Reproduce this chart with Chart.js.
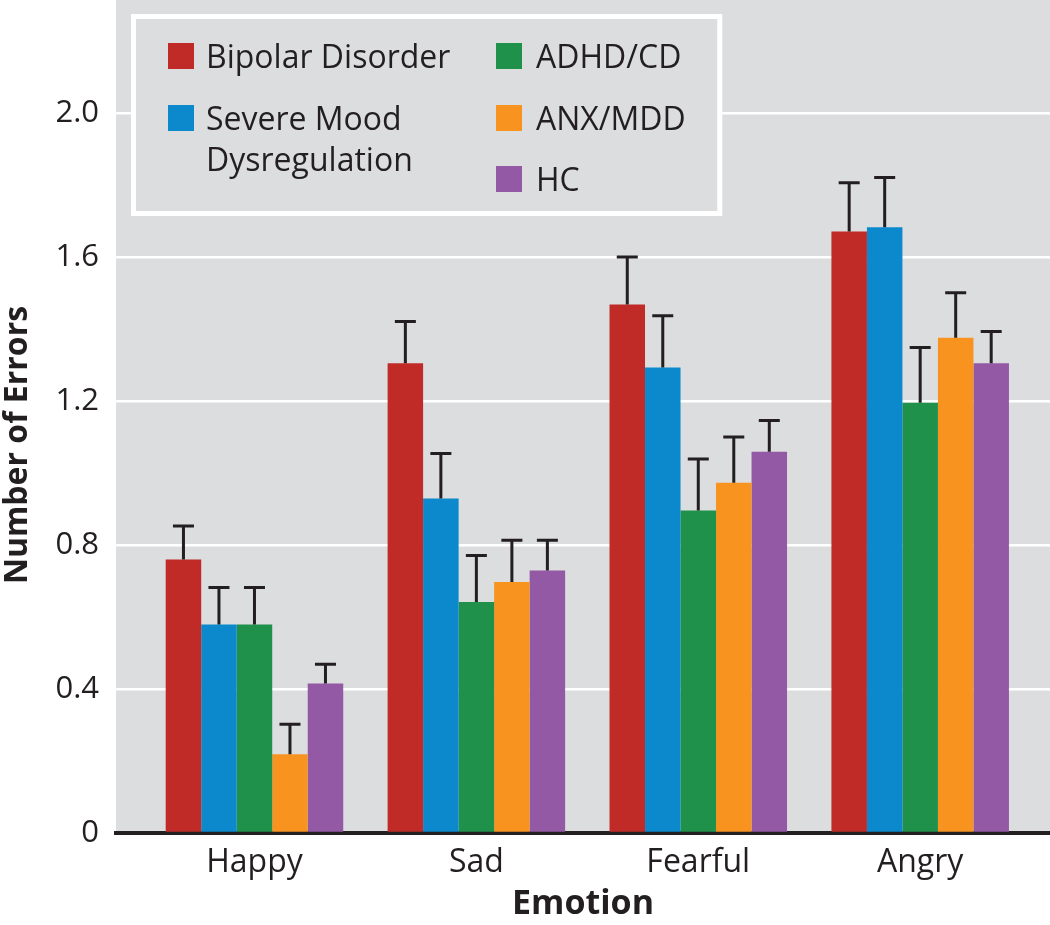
<!DOCTYPE html>
<html>
<head>
<meta charset="utf-8">
<script src="https://cdn.jsdelivr.net/npm/chart.js@4.4.1/dist/chart.umd.min.js"></script>
<style>
  html, body { margin: 0; padding: 0; background: #fff; }
</style>
</head>
<body>
<canvas id="errorsChart" width="1050" height="925"></canvas>
<script>
// data
const emotions = ["Happy", "Sad", "Fearful", "Angry"];
const groups = ["Bipolar Disorder", "Severe Mood Dysregulation", "ADHD/CD", "ANX/MDD", "HC"];
const legendLines = [["Bipolar Disorder"], ["Severe Mood", "Dysregulation"], ["ADHD/CD"], ["ANX/MDD"], ["HC"]];

const bipolar = [0.760, 1.305, 1.468, 1.671];
const smd     = [0.579, 0.929, 1.293, 1.683];
const adhd    = [0.579, 0.642, 0.896, 1.195];
const anx     = [0.219, 0.697, 0.973, 1.376];
const hc      = [0.415, 0.729, 1.059, 1.305];

const bipolarErr = [0.093, 0.116, 0.132, 0.135];
const smdErr     = [0.103, 0.125, 0.144, 0.138];
const adhdErr    = [0.103, 0.129, 0.143, 0.154];
const anxErr     = [0.083, 0.116, 0.127, 0.125];
const hcErr      = [0.054, 0.084, 0.087, 0.088];

const yTicks = [0, 0.4, 0.8, 1.2, 1.6, 2.0];

const colors = ["#c02b27", "#0b89cc", "#1f914a", "#f7931e", "#9359a4"];
const FONT = "'Open Sans', sans-serif";
const INK = "#231f20";
const PANEL = "#dcdddf";

const values = [bipolar, smd, adhd, anx, hc];
const errors = [bipolarErr, smdErr, adhdErr, anxErr, hcErr];

// grey plot panel
const panelBg = {
  id: "panelBg",
  beforeDraw(chart) {
    const a = chart.chartArea;
    const ctx = chart.ctx;
    ctx.save();
    ctx.fillStyle = PANEL;
    ctx.fillRect(a.left, 0, a.right - a.left, a.bottom);
    ctx.restore();
  }
};

// upper error bars only
const errorBars = {
  id: "errorBars",
  afterDatasetsDraw(chart) {
    const ctx = chart.ctx;
    const y = chart.scales.y;
    ctx.save();
    ctx.strokeStyle = INK;
    ctx.lineWidth = 3;
    chart.data.datasets.forEach((ds, di) => {
      const meta = chart.getDatasetMeta(di);
      meta.data.forEach((bar, i) => {
        const top = y.getPixelForValue(ds.data[i].y + ds.errors[i]);
        ctx.beginPath();
        ctx.moveTo(bar.x, bar.y);
        ctx.lineTo(bar.x, top);
        ctx.moveTo(bar.x - 10.5, top);
        ctx.lineTo(bar.x + 10.5, top);
        ctx.stroke();
      });
    });
    ctx.restore();
  }
};

// boxed legend, two columns
const boxLegend = {
  id: "boxLegend",
  afterDraw(chart) {
    const ctx = chart.ctx;
    ctx.save();
    ctx.font = "32px " + FONT;
    const cols = [{ sx: 168, tx: 206, items: [0, 1] }, { sx: 496, tx: 536, items: [2, 3, 4] }];
    const rowTop = [43, 105, 166];
    let right = 0;
    cols[1].items.forEach(i => {
      legendLines[i].forEach(t => { right = Math.max(right, cols[1].tx + ctx.measureText(t).width); });
    });
    right += 34;
    ctx.fillStyle = PANEL;
    ctx.fillRect(133, 16, right - 133, 198);
    ctx.strokeStyle = "#fff";
    ctx.lineWidth = 5;
    ctx.strokeRect(133.5, 16.5, right - 133.5, 197);
    ctx.textBaseline = "alphabetic";
    ctx.textAlign = "left";
    cols.forEach(col => {
      col.items.forEach((idx, r) => {
        const top = rowTop[r];
        ctx.fillStyle = colors[idx];
        ctx.fillRect(col.sx, top, 26, 26);
        ctx.fillStyle = INK;
        legendLines[idx].forEach((t, li) => {
          ctx.fillText(t, col.tx, top + 25 + li * 41);
        });
      });
    });
    ctx.restore();
  }
};

// y title drawn by hand so it sits where the original has it
const yTitle = {
  id: "yTitle",
  afterDraw(chart) {
    const ctx = chart.ctx;
    ctx.save();
    ctx.translate(18, 445);
    ctx.rotate(-Math.PI / 2);
    ctx.font = "bold 32px " + FONT;
    ctx.fillStyle = INK;
    ctx.textAlign = "center";
    ctx.textBaseline = "middle";
    ctx.fillText("Number of Errors", 0, 0);
    ctx.restore();
  }
};

function noPadding(scale) {
  scale.paddingTop = 0;
  scale.paddingBottom = 0;
  scale.paddingLeft = 0;
  scale.paddingRight = 0;
}

const ctxErrors = document.getElementById("errorsChart").getContext("2d");

const errorsChart = new Chart(ctxErrors, {
  type: "bar",
  data: {
    datasets: groups.map((g, gi) => ({
      label: g,
      data: values[gi].map((v, i) => ({ x: i, y: v })),
      errors: errors[gi],
      backgroundColor: colors[gi],
      borderWidth: 0,
      categoryPercentage: 0.8,
      barPercentage: 1.0,
    })),
  },
  options: {
    responsive: false,
    animation: false,
    devicePixelRatio: 1,
    layout: { padding: 0 },
    plugins: {
      legend: { display: false },
      tooltip: { enabled: false },
    },
    scales: {
      x: {
        type: "linear",
        min: -0.624,
        max: 3.585,
        offset: false,
        z: 1,
        grid: { display: false, drawTicks: false, offset: false },
        border: { display: true, color: INK, width: 4 },
        afterBuildTicks: (scale) => {
          scale.ticks = emotions.map((e, i) => ({ value: i }));
        },
        afterFit: (scale) => { scale.height = 92; noPadding(scale); },
        ticks: {
          callback: (v) => emotions[v] ?? "",
          font: { family: FONT, size: 32 },
          color: INK,
          padding: 11,
          maxRotation: 0,
          autoSkip: false,
        },
        title: {
          display: true,
          text: "Emotion",
          font: { family: FONT, size: 34, weight: "bold" },
          color: INK,
          padding: { top: 0, bottom: 0 },
        },
      },
      y: {
        min: 0,
        max: 2.314,
        afterBuildTicks: (scale) => {
          scale.ticks = yTicks.map((v) => ({ value: v }));
        },
        afterFit: (scale) => { scale.width = 116; noPadding(scale); },
        grid: { color: "#ffffff", lineWidth: 2.5, drawTicks: false },
        border: { display: false },
        ticks: {
          callback: (v) => (v === 0 ? "0" : v.toFixed(1)),
          font: { family: FONT, size: 31 },
          color: INK,
          padding: 17,
        },
      },
    },
  },
  plugins: [panelBg, errorBars, boxLegend, yTitle],
});
</script>
</body>
</html>
